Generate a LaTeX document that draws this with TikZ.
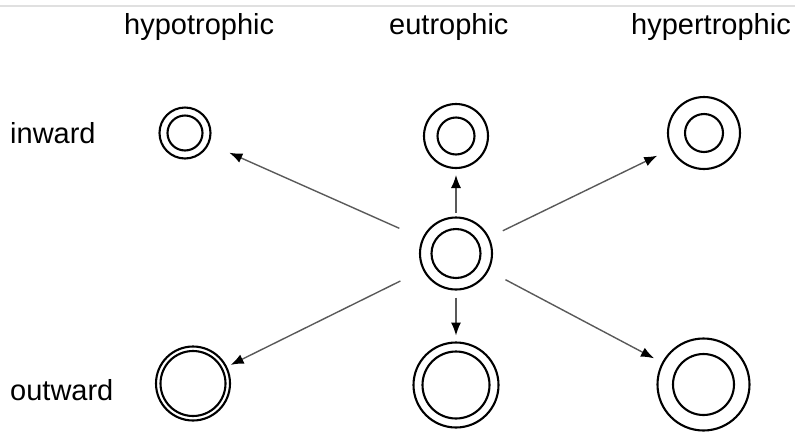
\documentclass[tikz,border=0pt]{standalone}
\usepackage{fontspec}
\setmainfont{Liberation Sans}
\usetikzlibrary{arrows.meta}

\begin{document}
\begin{tikzpicture}[x=1pt,y=-1pt,
  ring/.style={circle, draw=black, line width=2.1pt, inner sep=0pt, outer sep=0pt, minimum size=#1},
  innerring/.style={draw=black, line width=2.1pt},
  arr/.style={draw=black!65, line width=1.4pt, -{Latex[length=13pt,width=10pt,color=black]}},
  lbl/.style={font=\fontsize{29}{34}\selectfont, anchor=base west, inner sep=0pt}]

\useasboundingbox (0,0) rectangle (795,432);

% thin rule along the top
\draw[black!12, line width=2pt] (0,6) -- (795,6);

% column and row headings
\node[lbl] (h1) at (124,34) {hypotrophic};
\node[lbl] (h2) at (389,34) {eutrophic};
\node[lbl] (h3) at (631,34) {hypertrophic};
\node[lbl] (r1) at (10,143) {inward};
\node[lbl] (r2) at (10,400) {outward};

% vessel cross-sections: outer wall as a node, lumen as an inner circle
\node[ring=51pt] (tl) at (185,133) {};
\draw[innerring] (tl.center) circle (17.5);
\node[ring=64pt] (tm) at (456,136) {};
\draw[innerring] (tm.center) circle (18.5);
\node[ring=72pt] (tr) at (704,133) {};
\draw[innerring] (tr.center) circle (19);
\node[ring=72pt] (c) at (456,253.5) {};
\draw[innerring] (c.center) circle (24.5);
\node[ring=74pt] (bl) at (193,383.5) {};
\draw[innerring] (bl.center) circle (32.5);
\node[ring=85pt] (bm) at (456,385) {};
\draw[innerring] (bm.center) circle (33.5);
\node[ring=92pt] (br) at (703.5,384.5) {};
\draw[innerring] (br.center) circle (30.5);

% remodelling directions
\draw[arr, shorten <=26pt, shorten >=23pt] (c) -- (tl);
\draw[arr, shorten <=5pt,  shorten >=7pt]  (c) -- (tm);
\draw[arr, shorten <=16pt, shorten >=16pt] (c) -- (tr);
\draw[arr, shorten <=26pt, shorten >=5pt]  (c) -- (bl);
\draw[arr, shorten <=8pt,  shorten >=7pt]  (c) -- (bm);
\draw[arr, shorten <=20pt, shorten >=10pt] (c) -- (br);
\end{tikzpicture}
\end{document}
